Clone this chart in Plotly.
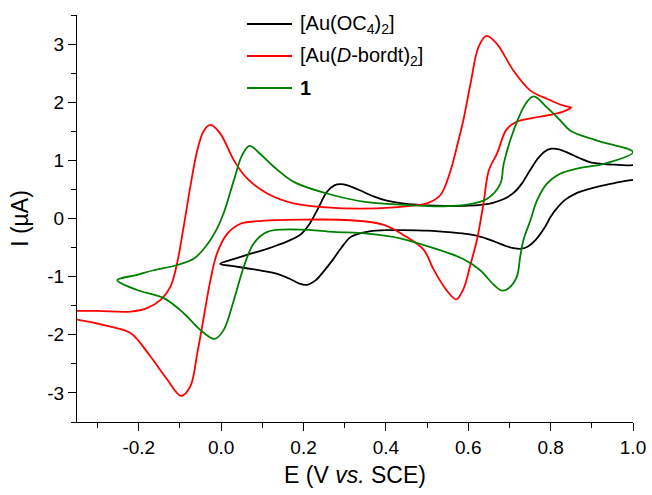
import plotly.graph_objects as go

# ---------------- data ----------------
names = ["[Au(OC<sub>4</sub>)<sub>2</sub>]",
         "[Au(<i>D</i>-bordt)<sub>2</sub>]",
         "<b>1</b>"]
colors = ["#000000", "#ff0000", "#008000"]

# [Au(OC4)2]
black_E = [-0.002, 0.03, 0.065, 0.10, 0.136, 0.165, 0.192, 0.212, 0.233, 0.257, 0.275, 0.29,
           0.305, 0.335, 0.37, 0.40, 0.44, 0.48, 0.52, 0.56, 0.60, 0.635, 0.66, 0.685, 0.71,
           0.73, 0.75, 0.77, 0.785, 0.802, 0.82, 0.845, 0.87, 0.895, 0.925, 0.955, 0.985, 1.03,
           1.03, 0.995, 0.955, 0.915, 0.88, 0.858, 0.835, 0.818, 0.80, 0.786, 0.762, 0.745,
           0.729, 0.71, 0.69, 0.665, 0.633, 0.60, 0.56, 0.50, 0.44, 0.40, 0.36, 0.335, 0.314,
           0.29, 0.27, 0.25, 0.23, 0.209, 0.19, 0.17, 0.14, 0.10, 0.065, 0.03, -0.002]
black_I = [-0.78, -0.70, -0.62, -0.55, -0.46, -0.38, -0.28, -0.12, 0.14, 0.46, 0.57, 0.59,
           0.575, 0.49, 0.38, 0.31, 0.26, 0.235, 0.22, 0.215, 0.22, 0.24, 0.27, 0.33, 0.44,
           0.60, 0.83, 1.04, 1.15, 1.20, 1.19, 1.12, 1.04, 0.97, 0.94, 0.925, 0.915, 0.90,
           0.70, 0.66, 0.61, 0.55, 0.48, 0.42, 0.32, 0.20, 0.03, -0.15, -0.38, -0.48,
           -0.52, -0.51, -0.47, -0.40, -0.32, -0.27, -0.24, -0.21, -0.20, -0.20, -0.22, -0.26, -0.32,
           -0.52, -0.72, -0.90, -1.06, -1.14, -1.12, -1.05, -0.96, -0.90, -0.86, -0.82, -0.78]

# [Au(D-bordt)2]
red_E = [-0.38, -0.30, -0.22, -0.18, -0.147, -0.123, -0.107, -0.091, -0.075, -0.058, -0.042,
         -0.026, -0.002, 0.031, 0.063, 0.112, 0.176, 0.257, 0.338, 0.42, 0.476, 0.50, 0.532,
         0.556, 0.573, 0.589, 0.605, 0.625, 0.644, 0.67, 0.71, 0.751, 0.791, 0.832, 0.85,
         0.838, 0.805, 0.757, 0.716, 0.692, 0.67, 0.65, 0.637, 0.621, 0.605, 0.589, 0.571,
         0.548, 0.516, 0.492, 0.451, 0.395, 0.314, 0.192, 0.10, 0.047, 0.015, -0.01, -0.026,
         -0.042, -0.058, -0.075, -0.097, -0.131, -0.172, -0.22, -0.269, -0.35, -0.38]
red_I = [-1.59, -1.59, -1.60, -1.54, -1.40, -1.17, -0.77, -0.14, 0.54, 1.17, 1.51,
         1.61, 1.46, 1.00, 0.69, 0.43, 0.26, 0.19, 0.17, 0.19, 0.23, 0.26, 0.40,
         0.80, 1.25, 1.72, 2.30, 2.95, 3.14, 3.00, 2.54, 2.20, 2.06, 1.94, 1.91,
         1.86, 1.79, 1.73, 1.66, 1.52, 1.12, 0.83, 0.26, -0.37, -0.80, -1.20, -1.39,
         -1.24, -0.88, -0.54, -0.32, -0.11, -0.03, -0.02, -0.04, -0.09, -0.26, -0.60, -1.06,
         -1.69, -2.32, -2.89, -3.05, -2.77, -2.37, -1.97, -1.86, -1.74, -1.72]

# 1
green_E = [-0.252, -0.204, -0.164, -0.107, -0.066, -0.034, -0.012, 0.006, 0.031, 0.051, 0.069,
           0.095, 0.128, 0.176, 0.257, 0.354, 0.435, 0.516, 0.597, 0.646, 0.678, 0.686, 0.71,
           0.739, 0.759, 0.791, 0.823, 0.848, 0.913, 1.0,
           0.929, 0.864, 0.823, 0.791, 0.767, 0.751, 0.734, 0.726, 0.718, 0.698, 0.682, 0.662,
           0.629, 0.589, 0.516, 0.435, 0.354, 0.273, 0.192, 0.112, 0.079, 0.055, 0.031, 0.006,
           -0.016, -0.05, -0.091, -0.139, -0.204, -0.252]
green_I = [-1.06, -0.97, -0.89, -0.80, -0.69, -0.45, -0.20, 0.09, 0.66, 1.09, 1.25,
           1.11, 0.89, 0.63, 0.43, 0.28, 0.24, 0.21, 0.24, 0.34, 0.60, 0.94, 1.51,
           1.97, 2.10, 1.91, 1.69, 1.51, 1.34, 1.14,
           0.94, 0.86, 0.77, 0.60, 0.31, -0.03, -0.37, -0.66, -1.00, -1.20, -1.24, -1.14,
           -0.89, -0.70, -0.51, -0.34, -0.26, -0.23, -0.19, -0.23, -0.43, -0.83, -1.40, -1.92,
           -2.07, -1.92, -1.63, -1.37, -1.23, -1.06]

x_ticks = [-0.2, 0.0, 0.2, 0.4, 0.6, 0.8, 1.0]
x_tick_labels = ["-0.2", "0.0", "0.2", "0.4", "0.6", "0.8", "1.0"]
y_ticks = [-3, -2, -1, 0, 1, 2, 3]
y_tick_labels = ["-3", "-2", "-1", "0", "1", "2", "3"]

# ---------------- figure ----------------
FONT = "Liberation Sans, Arial, sans-serif"
W, H = 652, 495
ML, MR, MT, MB = 77, 19, 15, 73
PW, PH = W - ML - MR, H - MT - MB

fig = go.Figure()
series = [(black_E, black_I), (red_E, red_I), (green_E, green_I)]
for (xe, yi), nm, col in zip(series, names, colors):
    fig.add_trace(go.Scatter(x=xe, y=yi, mode="lines", name=nm, showlegend=False,
                             line=dict(color=col, width=1.8, shape="spline", smoothing=1.0)))

# legend drawn in paper coordinates (line sample + label)
leg_rows_px = [24, 56, 88]
for nm, col, ry in zip(names, colors, leg_rows_px):
    yp = (H - MB - ry) / PH
    fig.add_shape(type="line", xref="paper", yref="paper",
                  x0=(247 - ML) / PW, x1=(292 - ML) / PW, y0=yp, y1=yp,
                  line=dict(color=col, width=1.8))
    fig.add_annotation(xref="paper", yref="paper", x=(298 - ML) / PW, y=yp,
                       xanchor="left", yanchor="middle", text=nm, showarrow=False,
                       font=dict(family=FONT, size=20, color="black"))

fig.update_layout(
    width=W, height=H,
    margin=dict(l=ML, r=MR, t=MT, b=MB, autoexpand=False),
    paper_bgcolor="white", plot_bgcolor="white",
    font=dict(family=FONT, size=19, color="black"),
    showlegend=False,
    xaxis=dict(range=[-0.35, 1.0], showgrid=False, zeroline=False, automargin=False,
               showline=True, linecolor="black", linewidth=1,
               ticks="outside", ticklen=8, tickwidth=1, tickcolor="black",
               tickvals=x_ticks, ticktext=x_tick_labels,
               minor=dict(ticks="outside", ticklen=5, tickwidth=1, tickcolor="black", dtick=0.1,
                          tick0=0, showgrid=False),
               title=dict(text="E (V <i>vs.</i> SCE)", standoff=10),
               tickfont=dict(size=19)),
    yaxis=dict(range=[-3.5, 3.5], showgrid=False, zeroline=False, automargin=False,
               showline=True, linecolor="black", linewidth=1,
               ticks="outside", ticklen=8, tickwidth=1, tickcolor="black",
               tickvals=y_ticks, ticktext=y_tick_labels,
               minor=dict(ticks="outside", ticklen=5, tickwidth=1, tickcolor="black", dtick=0.5,
                          tick0=0, showgrid=False),
               title=dict(text="I (µA)", standoff=12),
               tickfont=dict(size=19)),
)

fig.write_html("out.html", config={"displayModeBar": False},
               post_script="document.body.style.margin='0';document.body.style.overflow='hidden';")
